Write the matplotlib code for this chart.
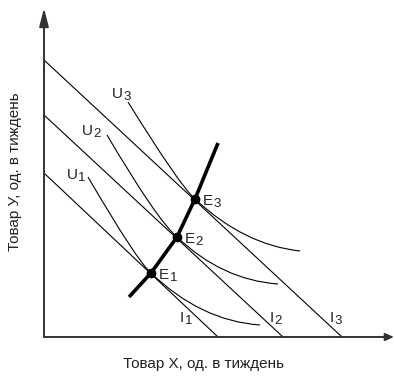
import numpy as np
import matplotlib
matplotlib.use("Agg")
import matplotlib.pyplot as plt
from matplotlib.path import Path
from matplotlib.patches import PathPatch

plt.rcParams['font.family'] = ['Liberation Sans', 'DejaVu Sans']

# Бюджетні лінії: (перетин з віссю Y, перетин з віссю X)
budget_names = ['I1', 'I2', 'I3']
budget_y0 = [164, 222, 277]
budget_x0 = [174, 239, 298]

# Точки рівноваги
eq_names = ['E1', 'E2', 'E3']
eq_x = [107, 133, 151]
eq_y = [64, 100, 138]

# Криві байдужості: початок, контрольна точка, E, контрольна точка, кінець
u_names = ['U1', 'U2', 'U3']
u_start = [(44, 160), (63, 202), (84, 235)]
u_ctrl1 = [(93, 76), (113, 117), (136, 151)]
u_ctrl2 = [(157, 16), (178, 57), (200, 92)]
u_end = [(216, 12), (234, 53), (256, 86)]

# Крива "доход - споживання"
icc_x = [85, 107, 133, 151, 174]
icc_y = [40, 64, 100, 138, 194]

# Позиції підписів (лівий край літери, центр по вертикалі)
u_label_pos = [(23, 162), (38, 206), (68, 243)]
i_label_pos = [(136, 19), (226, 19), (286, 19)]

fig = plt.figure(figsize=(3.94, 3.76), dpi=100)
ax = fig.add_axes([44 / 394, 39 / 376, 350 / 394, 329 / 376])
ax.set_xlim(0, 350)
ax.set_ylim(0, 329)
for s in ['top', 'right', 'left', 'bottom']:
    ax.spines[s].set_visible(False)
ax.set_xticks([])
ax.set_yticks([])

# осі зі стрілками
ax.annotate('', xy=(0, 329), xytext=(0, 0),
            arrowprops=dict(arrowstyle='-|>,head_width=0.28,head_length=1.1',
                            color='#333333', lw=1.4, shrinkA=0, shrinkB=0),
            annotation_clip=False)
ax.annotate('', xy=(350, 0), xytext=(0, 0),
            arrowprops=dict(arrowstyle='-|>,head_width=0.22,head_length=0.5',
                            color='#333333', lw=1.4, shrinkA=0, shrinkB=0),
            annotation_clip=False)

# бюджетні лінії
for y0, x0 in zip(budget_y0, budget_x0):
    ax.plot([0, x0], [y0, 0], color='black', lw=0.8)

# криві байдужості
codes = [Path.MOVETO, Path.CURVE3, Path.CURVE3, Path.CURVE3, Path.CURVE3]
for i in range(3):
    verts = [u_start[i], u_ctrl1[i], (eq_x[i], eq_y[i]), u_ctrl2[i], u_end[i]]
    ax.add_patch(PathPatch(Path(verts, codes), facecolor='none',
                           edgecolor='black', lw=0.8))

# крива доход-споживання
ax.plot(icc_x, icc_y, color='black', lw=2.6, solid_capstyle='butt')
ax.plot(eq_x, eq_y, 'o', color='black', markersize=6)

fs = 11
renderer = fig.canvas.get_renderer()


def label(x, y, name):
    # літера + трохи менша цифра-індекс
    t = ax.text(x, y, name[0], fontsize=fs, ha='left', va='center',
                color='#222222')
    bb = t.get_window_extent(renderer)
    ax.annotate(name[1], xy=(bb.x1, bb.y0), xycoords='figure pixels',
                xytext=(0.3, -1.5), textcoords='offset points',
                fontsize=fs - 1.5, ha='left', va='bottom', color='#222222')


for name, (x, y) in zip(u_names, u_label_pos):
    label(x, y, name)
for name, x, y in zip(eq_names, eq_x, eq_y):
    label(x + 8, y - 2, name)
for name, (x, y) in zip(budget_names, i_label_pos):
    label(x, y, name)

fig.text(203 / 394, 1 - 364 / 376, 'Товар Х, од. в тиждень',
         fontsize=fs, ha='center', va='center', color='#222222')
fig.text(15 / 394, 1 - 172 / 376, 'Товар У, од. в тиждень',
         fontsize=fs, ha='center', va='center', rotation=90, color='#222222')

fig.savefig('out.png', dpi=100)
